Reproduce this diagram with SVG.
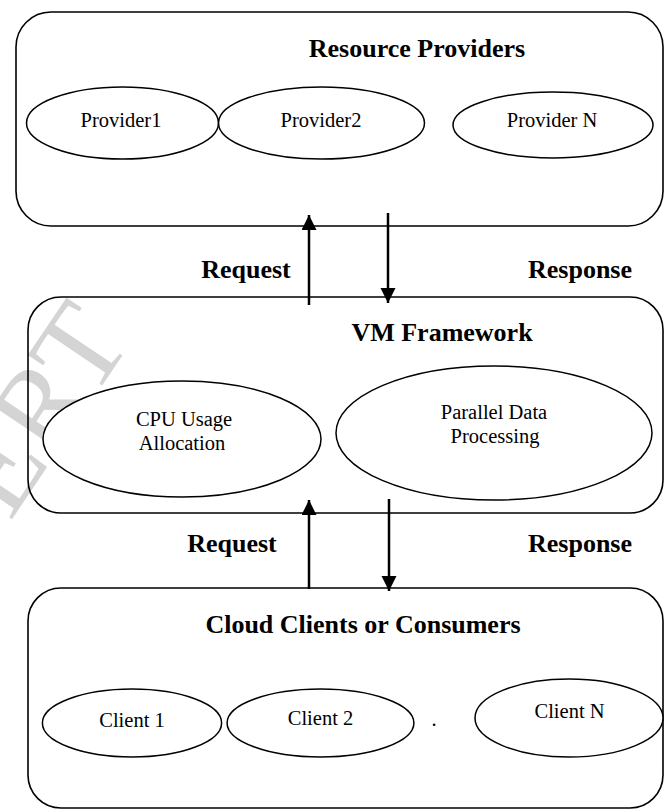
<svg xmlns="http://www.w3.org/2000/svg" width="665" height="811" viewBox="0 0 665 811">
<defs>
<style>
.box{fill:none;stroke:#000;stroke-width:1.6}
.ell{fill:#fff;stroke:#000;stroke-width:1.5}
.title{font-family:"Liberation Serif","Times New Roman",serif;font-weight:bold;font-size:26px;fill:#000;text-anchor:middle}
.lbl{font-family:"Liberation Serif","Times New Roman",serif;font-size:20.5px;fill:#000;text-anchor:middle}
.arr{stroke:#000;stroke-width:2.5;fill:none;marker-end:url(#ah)}
.wm{font-family:"Liberation Serif","Times New Roman",serif;font-size:120px;fill:#d4d4d4}
</style>
<marker id="ah" markerUnits="userSpaceOnUse" markerWidth="16" markerHeight="16" refX="15" refY="7.5" orient="auto">
<path d="M0,0 L15,7.5 L0,15 z" fill="#000"/>
</marker>
</defs>
<rect width="665" height="811" fill="#fff"/>
<text class="wm" transform="translate(10,522) rotate(-56)">ERT</text>

<g id="resource-providers">
<rect class="box" x="16" y="12" width="647" height="214" rx="35" ry="35"/>
<text class="title" x="417" y="57">Resource Providers</text>
</g>
<g id="provider1">
<ellipse class="ell" cx="122.5" cy="123" rx="96" ry="36"/>
<text class="lbl" x="121" y="127">Provider1</text>
</g>
<g id="provider2">
<ellipse class="ell" cx="321.5" cy="123" rx="103" ry="36"/>
<text class="lbl" x="321" y="127">Provider2</text>
</g>
<g id="providerN">
<ellipse class="ell" cx="553" cy="125" rx="100" ry="33"/>
<text class="lbl" x="552" y="127">Provider N</text>
</g>

<g id="vm-framework">
<rect class="box" x="28" y="297" width="635" height="216" rx="33" ry="33"/>
<text class="title" x="442" y="341">VM Framework</text>
</g>
<g id="cpu-usage">
<ellipse class="ell" cx="182" cy="439" rx="139" ry="58"/>
<text class="lbl" x="184" y="426">CPU Usage</text>
<text class="lbl" x="182" y="450">Allocation</text>
</g>
<g id="parallel-data">
<ellipse class="ell" cx="494" cy="433" rx="158" ry="67"/>
<text class="lbl" x="494" y="419">Parallel Data</text>
<text class="lbl" x="495" y="443">Processing</text>
</g>

<g id="cloud-clients">
<rect class="box" x="28" y="588" width="635" height="220" rx="33" ry="33"/>
<text class="title" x="363" y="633">Cloud Clients or Consumers</text>
<text class="lbl" x="434" y="726">.</text>
</g>
<g id="client1">
<ellipse class="ell" cx="132" cy="723" rx="89.6" ry="34"/>
<text class="lbl" x="132" y="727">Client 1</text>
</g>
<g id="client2">
<ellipse class="ell" cx="320.5" cy="723" rx="93.4" ry="34"/>
<text class="lbl" x="320.5" y="725">Client 2</text>
</g>
<g id="clientN">
<ellipse class="ell" cx="569" cy="718" rx="94" ry="39"/>
<text class="lbl" x="569.5" y="718">Client N</text>
</g>

<g id="connectors">
<line class="arr" x1="309" y1="305" x2="309" y2="215"/>
<line class="arr" x1="388" y1="213" x2="388" y2="303"/>
<line class="arr" x1="309" y1="589" x2="309" y2="500"/>
<line class="arr" x1="389" y1="499" x2="389" y2="591"/>
<text class="title" x="246" y="278">Request</text>
<text class="title" x="580" y="278">Response</text>
<text class="title" x="232" y="552">Request</text>
<text class="title" x="580" y="552">Response</text>
</g>
</svg>
